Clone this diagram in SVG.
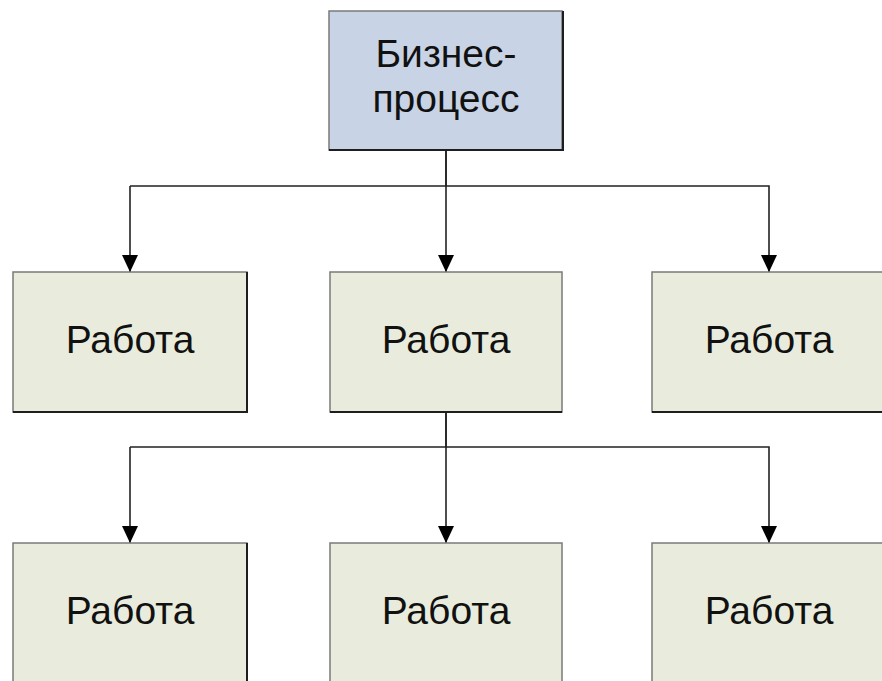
<svg xmlns="http://www.w3.org/2000/svg" width="882" height="681" viewBox="0 0 882 681">
  <style>
    .box { stroke: #7a7a7a; stroke-width: 1.5; }
    .proc { fill: #c8d4e5; }
    .work { fill: #e9ecdc; }
    .edge { stroke: #1e1e1e; stroke-width: 2; fill: none; }
    .label { font-family: "Liberation Sans", Arial, sans-serif; font-size: 39px; fill: #111; text-anchor: middle; }
    .wire { stroke: #222; stroke-width: 1.6; fill: none; }
    .arrow { marker-end: url(#arrow); }
  </style>
  <defs>
    <!-- filled triangle pointing along the path direction, tip on the end point -->
    <marker id="arrow" viewBox="0 0 17 16" refX="17" refY="8" markerWidth="17" markerHeight="16" markerUnits="userSpaceOnUse" orient="auto">
      <path d="M0,0 L17,8 L0,16 Z" fill="#000"/>
    </marker>
  </defs>

  <rect width="882" height="681" fill="#ffffff"/>

  <!-- connectors -->
  <g id="connectors">
    <path class="wire" d="M446,150 V186 H130"/>
    <path class="wire arrow" d="M130,186 V272"/>
    <path class="wire arrow" d="M446,150 V272"/>
    <path class="wire arrow" d="M446,186 H769 V272"/>
    <path class="wire" d="M446,412 V447 H130"/>
    <path class="wire arrow" d="M130,447 V543"/>
    <path class="wire arrow" d="M446,412 V543"/>
    <path class="wire arrow" d="M446,447 H769 V543"/>
  </g>

  <!-- top process -->
  <g id="process">
    <rect class="box proc" x="329" y="11" width="233" height="139"/>
    <path class="edge" d="M329,150 H563 V11"/>
    <text class="label" x="446" y="67">Бизнес-</text>
    <text class="label" x="446" y="112">процесс</text>
  </g>

  <!-- first level -->
  <g id="work-1-1">
    <rect class="box work" x="13" y="272" width="234" height="140"/>
    <path class="edge" d="M13,412 H247 V272"/>
    <text class="label" x="130" y="353">Работа</text>
  </g>
  <g id="work-1-2">
    <rect class="box work" x="330" y="272" width="232" height="140"/>
    <path class="edge" d="M330,412 H562"/>
    <text class="label" x="446" y="353">Работа</text>
  </g>
  <g id="work-1-3">
    <rect class="box work" x="652" y="272" width="240" height="140"/>
    <path class="edge" d="M652,412 H892"/>
    <text class="label" x="769" y="353">Работа</text>
  </g>

  <!-- second level -->
  <g id="work-2-1">
    <rect class="box work" x="13" y="543" width="234" height="150"/>
    <path class="edge" d="M247,543 V690"/>
    <text class="label" x="130" y="624">Работа</text>
  </g>
  <g id="work-2-2">
    <rect class="box work" x="330" y="543" width="232" height="150"/>
    <text class="label" x="446" y="624">Работа</text>
  </g>
  <g id="work-2-3">
    <rect class="box work" x="652" y="543" width="240" height="150"/>
    <text class="label" x="769" y="624">Работа</text>
  </g>
</svg>
